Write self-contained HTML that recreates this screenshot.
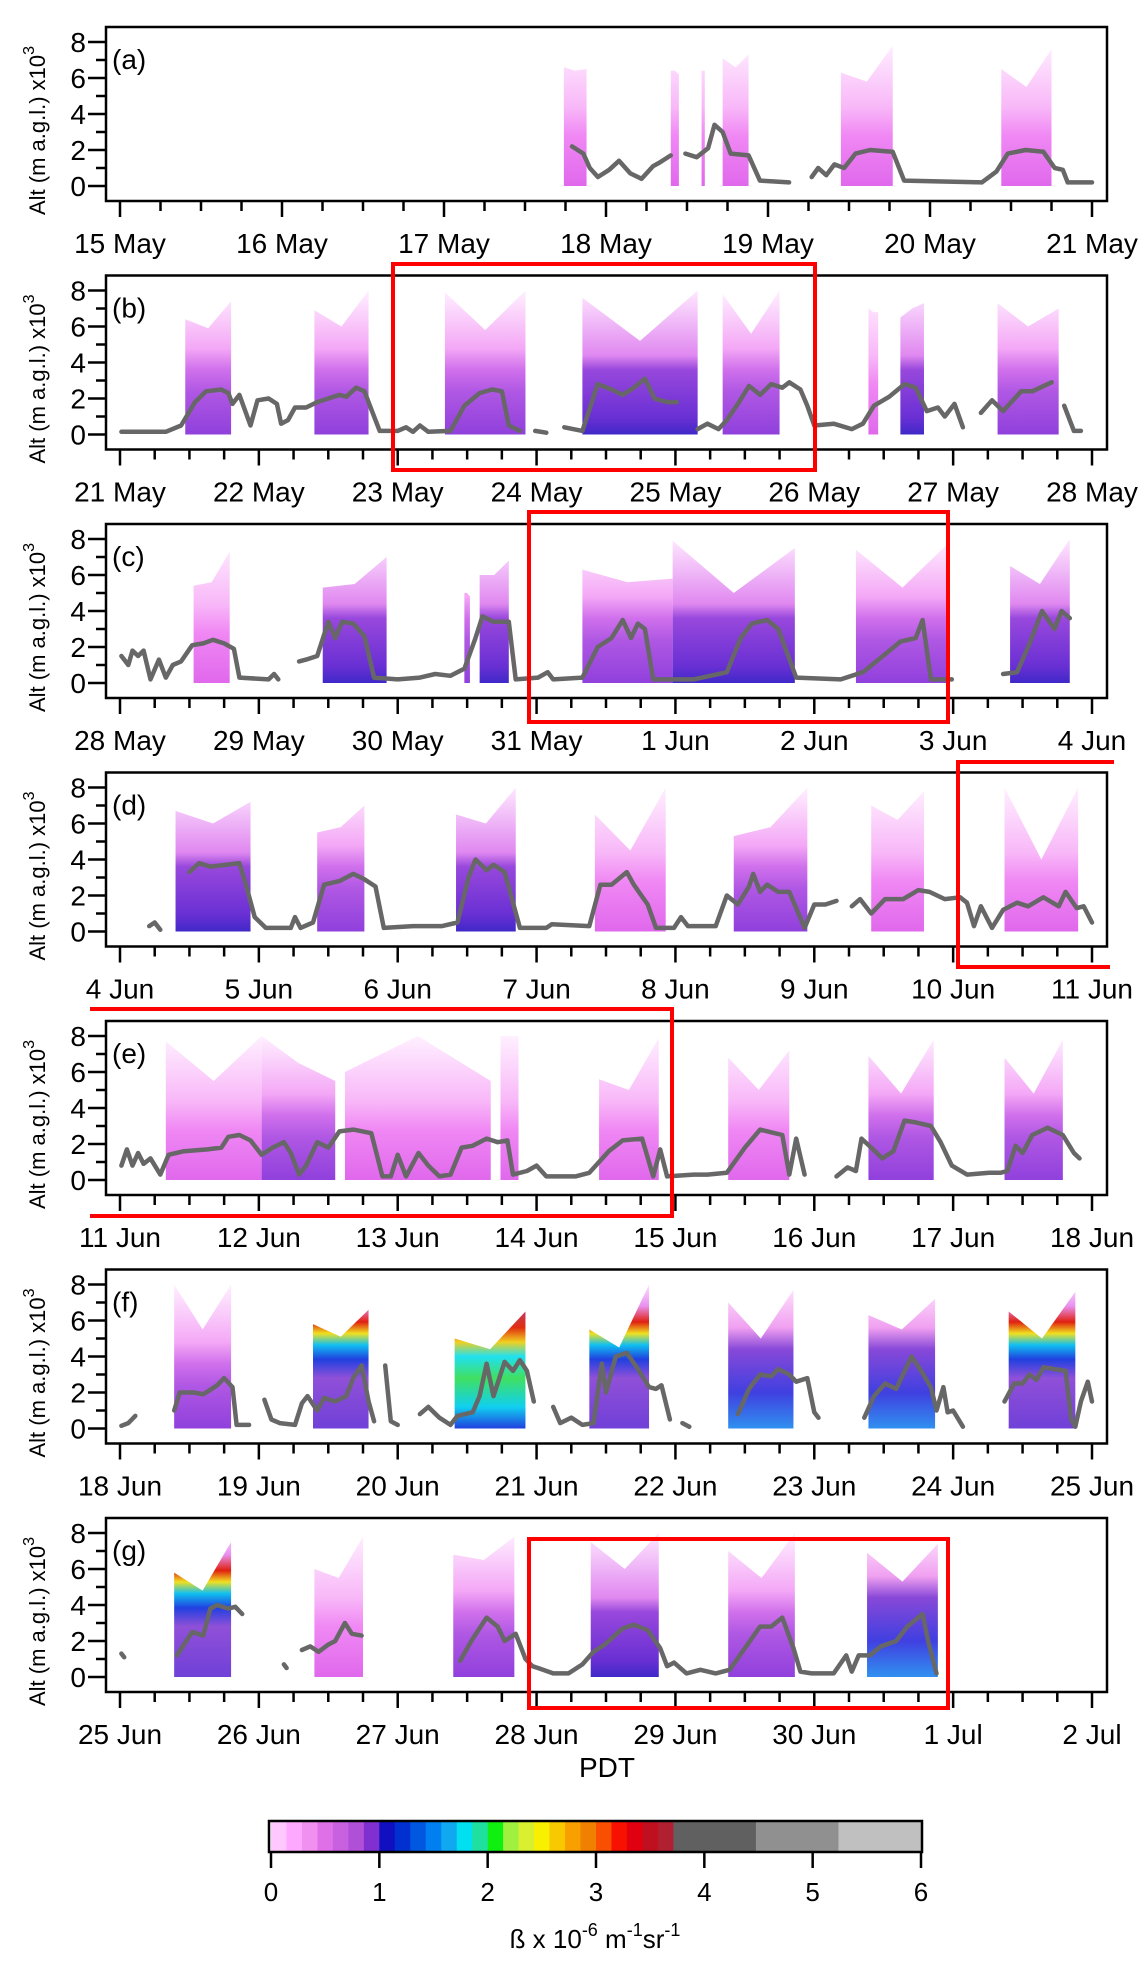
<!DOCTYPE html>
<html><head><meta charset="utf-8"><title>Lidar backscatter time series</title>
<style>
html,body{margin:0;padding:0;background:#fff;}
svg{display:block;font-family:"Liberation Sans",sans-serif;}
</style></head>
<body>
<svg id="chart" width="1144" height="1964" viewBox="0 0 1144 1964" xmlns="http://www.w3.org/2000/svg">
<defs>
<linearGradient id="g-light" gradientUnits="userSpaceOnUse" x1="0" y1="159" x2="0" y2="15">
<stop offset="0" stop-color="#e068ec"/><stop offset="0.35" stop-color="#f088f4"/><stop offset="0.55" stop-color="#f8b8f8"/><stop offset="1" stop-color="#fff0ff"/></linearGradient>
<linearGradient id="g-mid" gradientUnits="userSpaceOnUse" x1="0" y1="159" x2="0" y2="15">
<stop offset="0" stop-color="#9040dc"/><stop offset="0.3" stop-color="#b058e4"/><stop offset="0.45" stop-color="#d070ec"/><stop offset="0.6" stop-color="#f4a8f6"/><stop offset="1" stop-color="#fff0ff"/></linearGradient>
<linearGradient id="g-dark" gradientUnits="userSpaceOnUse" x1="0" y1="159" x2="0" y2="15">
<stop offset="0" stop-color="#4028c8"/><stop offset="0.12" stop-color="#6a30d4"/><stop offset="0.45" stop-color="#9848dc"/><stop offset="0.55" stop-color="#e088f0"/><stop offset="1" stop-color="#ffe8ff"/></linearGradient>
<linearGradient id="g-hotA" gradientUnits="userSpaceOnUse" x1="0" y1="159" x2="0" y2="15">
<stop offset="0" stop-color="#7040d8"/><stop offset="0.35" stop-color="#9050d8"/><stop offset="0.48" stop-color="#2040e0"/><stop offset="0.58" stop-color="#10c0f0"/><stop offset="0.66" stop-color="#f0e020"/><stop offset="0.74" stop-color="#e02010"/><stop offset="0.85" stop-color="#e890f0"/><stop offset="1" stop-color="#ffe0ff"/></linearGradient>
<linearGradient id="g-hotB" gradientUnits="userSpaceOnUse" x1="0" y1="159" x2="0" y2="15">
<stop offset="0" stop-color="#2040e0"/><stop offset="0.15" stop-color="#10d0f0"/><stop offset="0.35" stop-color="#40e060"/><stop offset="0.5" stop-color="#20e0f0"/><stop offset="0.6" stop-color="#f0d020"/><stop offset="0.7" stop-color="#e03010"/><stop offset="1" stop-color="#9040d8"/></linearGradient>
<linearGradient id="g-cool" gradientUnits="userSpaceOnUse" x1="0" y1="159" x2="0" y2="15">
<stop offset="0" stop-color="#3090f0"/><stop offset="0.25" stop-color="#4040e0"/><stop offset="0.55" stop-color="#8848d8"/><stop offset="0.7" stop-color="#f0a0f0"/><stop offset="1" stop-color="#ffe8ff"/></linearGradient>
</defs>
<g id="panels"></g>
<g id="overlay"></g>
</svg>
<script>
const NS="http://www.w3.org/2000/svg";
const panelLetters=["a","b","c","d","e","f","g"];
const panelDayLabels=[
["15 May","16 May","17 May","18 May","19 May","20 May","21 May"],
["21 May","22 May","23 May","24 May","25 May","26 May","27 May","28 May"],
["28 May","29 May","30 May","31 May","1 Jun","2 Jun","3 Jun","4 Jun"],
["4 Jun","5 Jun","6 Jun","7 Jun","8 Jun","9 Jun","10 Jun","11 Jun"],
["11 Jun","12 Jun","13 Jun","14 Jun","15 Jun","16 Jun","17 Jun","18 Jun"],
["18 Jun","19 Jun","20 Jun","21 Jun","22 Jun","23 Jun","24 Jun","25 Jun"],
["25 Jun","26 Jun","27 Jun","28 Jun","29 Jun","30 Jun","1 Jul","2 Jul"]];
const yTickLabels=["0","2","4","6","8"];
// curtains: [startDay, endDay, topStart, topMid, topEnd, style]
const curtainsA=[[2.74,2.88,6.6,6.4,6.5,"light"],[3.40,3.45,6.4,6.4,6.2,"light"],[3.59,3.61,6.4,6.4,6.4,"light"],[3.72,3.88,7.1,6.6,7.3,"light"],[4.45,4.77,6.3,5.8,7.8,"light"],[5.44,5.75,6.5,5.5,7.6,"light"]];
const curtainsB=[[0.47,0.80,6.4,5.9,7.4,"mid"],[1.40,1.79,6.9,6.0,8.0,"mid"],[2.34,2.92,7.9,5.8,8.0,"mid"],[3.33,4.16,7.6,5.2,8.0,"dark"],[4.34,4.75,7.8,5.6,8.0,"mid"],[5.39,5.46,7.0,6.8,6.8,"light"],[5.62,5.79,6.5,7.0,7.3,"dark"],[6.32,6.76,7.3,6.0,7.0,"mid"]];
const curtainsC=[[0.53,0.79,5.4,5.6,7.3,"light"],[1.46,1.92,5.3,5.5,7.0,"dark"],[2.48,2.52,5.0,5.0,4.8,"mid"],[2.59,2.80,6.0,6.0,6.8,"dark"],[3.33,3.98,6.3,5.6,5.8,"mid"],[3.98,4.86,7.9,5.0,7.5,"dark"],[5.30,5.97,7.4,5.3,7.8,"mid"],[6.41,6.84,6.5,5.5,8.0,"dark"]];
const curtainsD=[[0.40,0.94,6.7,6.0,7.2,"dark"],[1.42,1.76,5.5,5.8,7.0,"mid"],[2.42,2.85,6.5,6.0,8.0,"dark"],[3.42,3.93,6.5,4.5,8.0,"light"],[4.42,4.95,5.3,5.8,8.0,"mid"],[5.41,5.79,7.0,6.2,7.8,"light"],[6.37,6.90,8.0,4.0,8.0,"light"]];
const curtainsE=[[0.33,1.02,7.7,5.5,8.0,"light"],[1.02,1.55,8.0,6.5,5.5,"mid"],[1.62,2.67,6.0,8.0,5.5,"light"],[2.74,2.87,8.0,8.0,8.0,"light"],[3.45,3.88,5.6,5.0,7.9,"light"],[4.38,4.82,6.8,5.0,7.2,"light"],[5.39,5.86,6.9,4.8,7.8,"mid"],[6.37,6.79,6.8,4.8,7.8,"mid"]];
const curtainsF=[[0.39,0.80,8.0,5.5,8.0,"mid"],[1.39,1.79,5.8,5.1,6.6,"hotA"],[2.41,2.92,5.0,4.4,6.5,"hotB"],[3.38,3.81,5.5,4.5,8.0,"hotA"],[4.38,4.85,7.0,5.0,7.7,"cool"],[5.39,5.87,6.3,5.5,7.2,"cool"],[6.40,6.88,6.5,5.0,7.6,"hotA"]];
const curtainsG=[[0.39,0.80,5.8,4.8,7.5,"hotA"],[1.40,1.75,6.0,5.5,7.8,"light"],[2.40,2.84,6.8,6.5,7.8,"mid"],[3.39,3.88,7.5,6.0,8.0,"dark"],[4.38,4.86,7.0,5.5,8.0,"mid"],[5.38,5.89,6.9,5.3,7.4,"cool"]];
// PBL line: [day, km], null = gap
const lineA=[[2.79,2.2],[2.86,1.8],[2.90,1.0],[2.95,0.5],[3.02,0.9],[3.08,1.4],[3.15,0.7],[3.22,0.4],[3.29,1.1],[3.33,1.3],[3.40,1.7],null,[3.49,1.8],[3.56,1.6],[3.63,2.1],[3.67,3.4],[3.72,3.0],[3.77,1.8],[3.88,1.7],[3.95,0.3],[4.13,0.2],null,[4.27,0.5],[4.31,1.0],[4.36,0.6],[4.41,1.2],[4.47,1.0],[4.54,1.8],[4.63,2.0],[4.77,1.9],[4.84,0.3],[5.32,0.2],[5.41,0.8],[5.48,1.8],[5.59,2.0],[5.70,1.9],[5.77,1.0],[5.82,0.9],[5.85,0.2],[6.0,0.2]];
const lineB=[[0.01,0.15],[0.33,0.15],[0.44,0.5],[0.54,1.8],[0.62,2.4],[0.73,2.5],[0.78,2.3],[0.81,1.7],[0.86,2.2],[0.94,0.5],[0.99,1.9],[1.07,2.0],[1.13,1.7],[1.16,0.6],[1.21,0.8],[1.26,1.5],[1.34,1.5],[1.42,1.8],[1.50,2.0],[1.58,2.2],[1.63,2.1],[1.70,2.6],[1.76,2.4],[1.82,1.2],[1.87,0.2],[2.00,0.2],[2.06,0.4],[2.11,0.15],[2.16,0.5],[2.22,0.15],[2.38,0.2],[2.48,1.6],[2.59,2.3],[2.68,2.5],[2.75,2.4],[2.80,0.5],[2.88,0.2],null,[2.99,0.2],[3.07,0.1],null,[3.20,0.4],[3.33,0.2],[3.44,2.8],[3.54,2.5],[3.62,2.2],[3.70,2.6],[3.78,3.1],[3.85,2.0],[3.94,1.8],[4.01,1.8],null,[4.16,0.3],[4.23,0.6],[4.31,0.3],[4.37,0.8],[4.45,1.7],[4.53,2.7],[4.61,2.2],[4.69,2.8],[4.77,2.6],[4.82,2.9],[4.90,2.5],[4.95,1.6],[5.0,0.5],[5.14,0.6],[5.27,0.3],[5.35,0.6],[5.43,1.6],[5.54,2.1],[5.65,2.8],[5.73,2.6],[5.81,1.3],[5.89,1.5],[5.94,1.0],[6.01,1.7],[6.07,0.4],null,[6.20,1.2],[6.28,1.9],[6.36,1.3],[6.49,2.4],[6.57,2.4],[6.71,2.9],null,[6.80,1.6],[6.87,0.2],[6.92,0.2]];
const lineC=[[0.01,1.5],[0.06,1.0],[0.09,1.8],[0.13,1.5],[0.17,1.8],[0.22,0.2],[0.28,1.3],[0.33,0.3],[0.38,1.0],[0.44,1.2],[0.52,2.1],[0.60,2.2],[0.67,2.4],[0.75,2.2],[0.82,1.9],[0.86,0.3],[1.07,0.2],[1.11,0.5],[1.14,0.2],null,[1.29,1.2],[1.34,1.3],[1.42,1.5],[1.50,3.4],[1.55,2.5],[1.60,3.4],[1.68,3.3],[1.76,2.6],[1.83,0.3],[2.00,0.2],[2.16,0.3],[2.27,0.5],[2.38,0.4],[2.48,0.8],[2.56,2.5],[2.61,3.7],[2.69,3.4],[2.80,3.4],[2.85,0.2],[3.01,0.3],[3.08,0.6],[3.12,0.2],[3.33,0.3],[3.44,2.0],[3.54,2.5],[3.62,3.5],[3.68,2.5],[3.73,3.3],[3.78,3.0],[3.84,0.2],[4.13,0.2],[4.37,0.6],[4.47,2.5],[4.55,3.3],[4.66,3.5],[4.74,3.0],[4.87,0.3],[5.19,0.2],[5.35,0.6],[5.51,1.6],[5.62,2.3],[5.73,2.5],[5.78,3.5],[5.84,0.2],[5.99,0.2],null,[6.36,0.5],[6.46,0.6],[6.54,2.0],[6.64,4.0],[6.73,3.0],[6.78,4.0],[6.84,3.6]];
const lineD=[[0.21,0.3],[0.25,0.5],[0.29,0.1],null,[0.50,3.3],[0.57,3.8],[0.65,3.6],[0.76,3.7],[0.86,3.8],[0.91,2.5],[0.97,0.8],[1.05,0.2],[1.23,0.2],[1.26,0.8],[1.30,0.2],[1.39,0.5],[1.47,2.6],[1.58,2.8],[1.68,3.2],[1.76,2.9],[1.84,2.5],[1.90,0.2],[2.11,0.3],[2.22,0.3],[2.32,0.3],[2.43,0.5],[2.51,3.0],[2.56,4.0],[2.64,3.4],[2.69,3.7],[2.77,3.3],[2.88,0.2],[3.07,0.2],[3.11,0.4],[3.38,0.3],[3.46,2.6],[3.54,2.6],[3.65,3.3],[3.70,2.6],[3.80,1.5],[3.86,0.2],[3.99,0.2],[4.04,0.8],[4.09,0.3],[4.29,0.3],[4.37,2.0],[4.45,1.5],[4.53,2.5],[4.56,3.2],[4.61,2.2],[4.66,2.6],[4.74,2.2],[4.82,2.2],[4.93,0.2],[5.0,1.5],[5.08,1.5],[5.16,1.7],null,[5.27,1.4],[5.33,1.8],[5.41,1.0],[5.51,1.8],[5.64,1.8],[5.75,2.3],[5.83,2.2],[5.94,1.8],[6.05,1.9],[6.10,1.6],[6.15,0.3],[6.20,1.4],[6.28,0.2],[6.36,1.2],[6.46,1.6],[6.54,1.4],[6.65,1.9],[6.76,1.4],[6.81,2.2],[6.89,1.3],[6.94,1.4],[7.0,0.5]];
const lineE=[[0.01,0.8],[0.05,1.7],[0.09,0.8],[0.13,1.5],[0.17,0.9],[0.22,1.2],[0.29,0.3],[0.35,1.4],[0.46,1.6],[0.63,1.7],[0.73,1.8],[0.78,2.4],[0.86,2.5],[0.94,2.2],[1.02,1.4],[1.10,1.8],[1.18,2.1],[1.23,1.5],[1.29,0.3],[1.34,0.8],[1.42,2.1],[1.50,1.8],[1.58,2.7],[1.68,2.8],[1.81,2.6],[1.89,0.2],[1.95,0.2],[2.00,1.4],[2.06,0.2],[2.15,1.5],[2.22,0.8],[2.30,0.2],[2.38,0.3],[2.46,1.8],[2.54,1.9],[2.64,2.3],[2.72,2.1],[2.79,2.2],[2.83,0.3],[2.93,0.5],[3.00,0.8],[3.07,0.2],[3.28,0.2],[3.38,0.4],[3.52,1.6],[3.62,2.2],[3.76,2.3],[3.84,0.2],[3.89,1.7],[3.94,0.2],[4.13,0.3],[4.23,0.3],[4.37,0.4],[4.50,1.8],[4.61,2.8],[4.77,2.5],[4.82,0.3],[4.87,2.3],[4.93,0.3],null,[5.16,0.2],[5.24,0.7],[5.30,0.5],[5.34,2.3],[5.41,1.8],[5.49,1.2],[5.57,1.6],[5.65,3.3],[5.73,3.2],[5.84,3.0],[5.91,2.1],[5.99,0.8],[6.10,0.3],[6.26,0.4],[6.34,0.4],[6.39,0.5],[6.45,1.9],[6.50,1.5],[6.57,2.5],[6.68,2.9],[6.79,2.5],[6.87,1.5],[6.91,1.2]];
const lineF=[[0.01,0.15],[0.06,0.3],[0.11,0.7],null,[0.39,1.0],[0.43,2.0],[0.53,2.0],[0.60,1.9],[0.70,2.4],[0.75,2.8],[0.81,2.3],[0.84,0.2],[0.93,0.2],null,[1.04,1.6],[1.09,0.5],[1.15,0.3],[1.26,0.2],[1.31,1.4],[1.35,1.8],[1.42,1.0],[1.47,1.7],[1.55,1.5],[1.63,1.8],[1.68,2.8],[1.74,3.5],[1.79,1.5],[1.83,0.4],null,[1.91,3.5],[1.95,0.4],[2.00,0.2],null,[2.16,0.8],[2.22,1.2],[2.30,0.6],[2.38,0.2],[2.43,0.7],[2.54,0.9],[2.59,1.8],[2.64,3.6],[2.69,1.8],[2.77,3.7],[2.83,3.2],[2.88,3.8],[2.93,3.2],[2.98,1.5],null,[3.12,1.2],[3.17,0.3],[3.25,0.6],[3.33,0.2],[3.41,0.3],[3.47,3.6],[3.50,2.0],[3.57,4.0],[3.65,4.2],[3.73,3.3],[3.81,2.3],[3.86,2.2],[3.90,2.4],[3.96,0.5],null,[4.05,0.3],[4.10,0.1],null,[4.45,0.8],[4.53,2.2],[4.61,3.0],[4.69,2.9],[4.74,3.3],[4.82,3.0],[4.87,2.6],[4.95,2.8],[5.0,0.9],[5.03,0.6],null,[5.36,0.6],[5.43,1.8],[5.51,2.5],[5.59,2.2],[5.70,4.0],[5.77,3.2],[5.84,2.3],[5.88,1.0],[5.93,2.3],[5.96,0.9],[6.0,1.0],[6.07,0.1],null,[6.37,1.5],[6.44,2.5],[6.50,2.5],[6.55,3.0],[6.60,2.7],[6.65,3.4],[6.73,3.3],[6.81,3.2],[6.85,0.5],[6.88,0.1],[6.92,1.5],[6.97,2.6],[7.0,1.5]];
const lineG=[[0.01,1.3],[0.03,1.1],null,[0.41,1.2],[0.52,2.5],[0.60,2.3],[0.65,3.8],[0.70,4.0],[0.78,3.8],[0.83,3.9],[0.88,3.5],null,[1.18,0.7],[1.20,0.5],null,[1.31,1.5],[1.37,1.7],[1.43,1.4],[1.50,1.8],[1.55,2.0],[1.62,3.0],[1.67,2.4],[1.74,2.3],null,[2.45,0.9],[2.53,2.0],[2.64,3.3],[2.72,2.8],[2.77,2.0],[2.85,2.4],[2.92,1.0],[2.97,0.6],[3.01,0.5],[3.12,0.2],[3.23,0.2],[3.33,0.7],[3.41,1.4],[3.49,1.8],[3.62,2.7],[3.70,2.9],[3.80,2.6],[3.89,1.6],[3.94,0.6],[3.99,0.8],[4.08,0.2],[4.18,0.4],[4.29,0.2],[4.39,0.4],[4.50,1.6],[4.61,2.8],[4.69,2.8],[4.77,3.3],[4.85,1.6],[4.90,0.3],[4.98,0.2],[5.14,0.2],[5.23,1.2],[5.27,0.3],[5.32,1.2],[5.40,1.2],[5.48,1.7],[5.59,2.0],[5.67,2.8],[5.78,3.5],[5.82,2.0],[5.88,0.2]];
const panelCurtains=[curtainsA,curtainsB,curtainsC,curtainsD,curtainsE,curtainsF,curtainsG];
const panelLines=[lineA,lineB,lineC,lineD,lineE,lineF,lineG];
const panelDays=[6,7,7,7,7,7,7];
// colorbar data
const cbColors=["#ffc8ff","#ffa8ff","#f090f0","#e070e8","#c860e0","#b050d8","#8030d0","#1010c0","#0030d0","#0058e0","#0080f0","#10a8f0","#00e0f0","#20e0a0","#10f010","#a0f040","#d8f030","#f8f000","#f8c800","#f8a000","#f08000","#f85000","#f81000","#e00010","#c01020","#b02030","#606060","#909090","#c0c0c0"];
const cbTicks=["0","1","2","3","4","5","6"];

const X0=120, X1=1092, BOXL=106, BOXR=1107, PTOP=27, PSTEP=248.5, BOXH=174;
function yScale(v){return 159-18*v;}
function mk(tag,attrs,parent){const e=document.createElementNS(NS,tag);for(const k in attrs)e.setAttribute(k,attrs[k]);if(parent)parent.appendChild(e);return e;}
const root=document.getElementById('panels');

panelLetters.forEach((L,i)=>{
  const nd=panelDays[i];
  const xScale=d=>X0+(X1-X0)*d/nd;
  const g=mk('g',{transform:`translate(0,${PTOP+PSTEP*i})`},root);
  
  
  const cg=mk('g',{},g);
  
  
  panelCurtains[i].forEach((c,j)=>{
    const [s,e,t0,tm,t1,st]=c;
    const xs=xScale(s),xe=xScale(e),xm=(xs+xe)/2;
    const p=mk('polygon',{points:`${xs},${yScale(0)} ${xs},${yScale(t0)} ${xm},${yScale(tm)} ${xe},${yScale(t1)} ${xe},${yScale(0)}`,fill:`url(#g-${st})`},cg);
    
    
  });
  let d='',pen=false;
  panelLines[i].forEach(pt=>{
    if(pt===null){pen=false;return;}
    d+=(pen?'L':'M')+xScale(pt[0]).toFixed(1)+','+yScale(pt[1]).toFixed(1);pen=true;
  });
  const ln=mk('path',{d:d,fill:'none',stroke:'#676767','stroke-width':4.5,'stroke-linejoin':'round','stroke-linecap':'round'},g);
  
  
  const box=mk('rect',{x:BOXL,y:0,width:BOXR-BOXL,height:BOXH,fill:'none',stroke:'#000','stroke-width':2.5},g);
  
  
  const yg=mk('g',{},g);
  
  
  for(let v=0;v<=8;v++){
    mk('line',{x1:v%2?96:88,x2:BOXL,y1:yScale(v),y2:yScale(v),stroke:'#000','stroke-width':2.5},yg);
  }
  yTickLabels.forEach(t=>{
    const tx=mk('text',{x:86,y:yScale(+t)+10,'text-anchor':'end','font-size':28},yg);
    tx.textContent=t;
    
    
  });
  const yt=mk('text',{transform:`translate(45,${188})rotate(-90)`,'font-size':22},yg);
  
  
  yt.innerHTML='Alt (m a.g.l.) x10<tspan dy="-11" font-size="16">3</tspan>';
  const xg=mk('g',{},g);
  
  
  for(let q=0;q<=nd*4;q++){
    const x=xScale(q/4);
    mk('line',{x1:x,x2:x,y1:BOXH,y2:q%4?BOXH+10:BOXH+16,stroke:'#000','stroke-width':2.5},xg);
  }
  panelDayLabels[i].forEach((t,k)=>{
    const tx=mk('text',{x:xScale(k),y:BOXH+52,'text-anchor':'middle','font-size':28},xg);
    tx.textContent=t;
    
    
  });
  const lab=mk('text',{x:112,y:42,'font-size':28},g);
  lab.textContent='('+L+')';
  
  
});

const ov=document.getElementById('overlay');
function red(d,name){const p=mk('path',{d:d,fill:'none',stroke:'#f00','stroke-width':4},ov);}
red('M393,264H815V470H393Z','highlight-box-b');
red('M529,512H948V722H529Z','highlight-box-c');
red('M1114,762H958V967H1110','highlight-box-d');
red('M90,1009H672V1216H90','highlight-box-e');
red('M529,1539H948V1708H529Z','highlight-box-g');

const pdt=mk('text',{x:607,y:1777,'text-anchor':'middle','font-size':28},ov);
pdt.textContent='PDT';



const cb=mk('g',{},ov);


const CB0=271,CB6=921,cbX=v=>CB0+(CB6-CB0)*v/6;
const nCol=cbColors.length-3;
cbColors.forEach((c,k)=>{
  let a,b;
  if(k<nCol){a=k/7;b=(k+1)/7;}else{const s=nCol/7,w=(6-s)/3;a=s+(k-nCol)*w;b=a+w;}
  const r=mk('rect',{x:cbX(a),y:1821,width:cbX(b)-cbX(a)+0.5,height:31,fill:c},cb);
  
  
});
mk('rect',{x:269,y:1821,width:653,height:31,fill:'none',stroke:'#000','stroke-width':2.5},cb);
cbTicks.forEach(t=>{
  const x=cbX(+t);
  mk('line',{x1:x,x2:x,y1:1852,y2:1868,stroke:'#000','stroke-width':2.5},cb);
  const tx=mk('text',{x:x,y:1901,'text-anchor':'middle','font-size':26},cb);
  tx.textContent=t;
  
  
});
const cbt=mk('text',{x:595,y:1948,'text-anchor':'middle','font-size':26},cb);


cbt.innerHTML='ß x 10<tspan dy="-12" font-size="18">-6</tspan><tspan dy="12"> m</tspan><tspan dy="-12" font-size="18">-1</tspan><tspan dy="12">sr</tspan><tspan dy="-12" font-size="18">-1</tspan>';
</script>
</body></html>
